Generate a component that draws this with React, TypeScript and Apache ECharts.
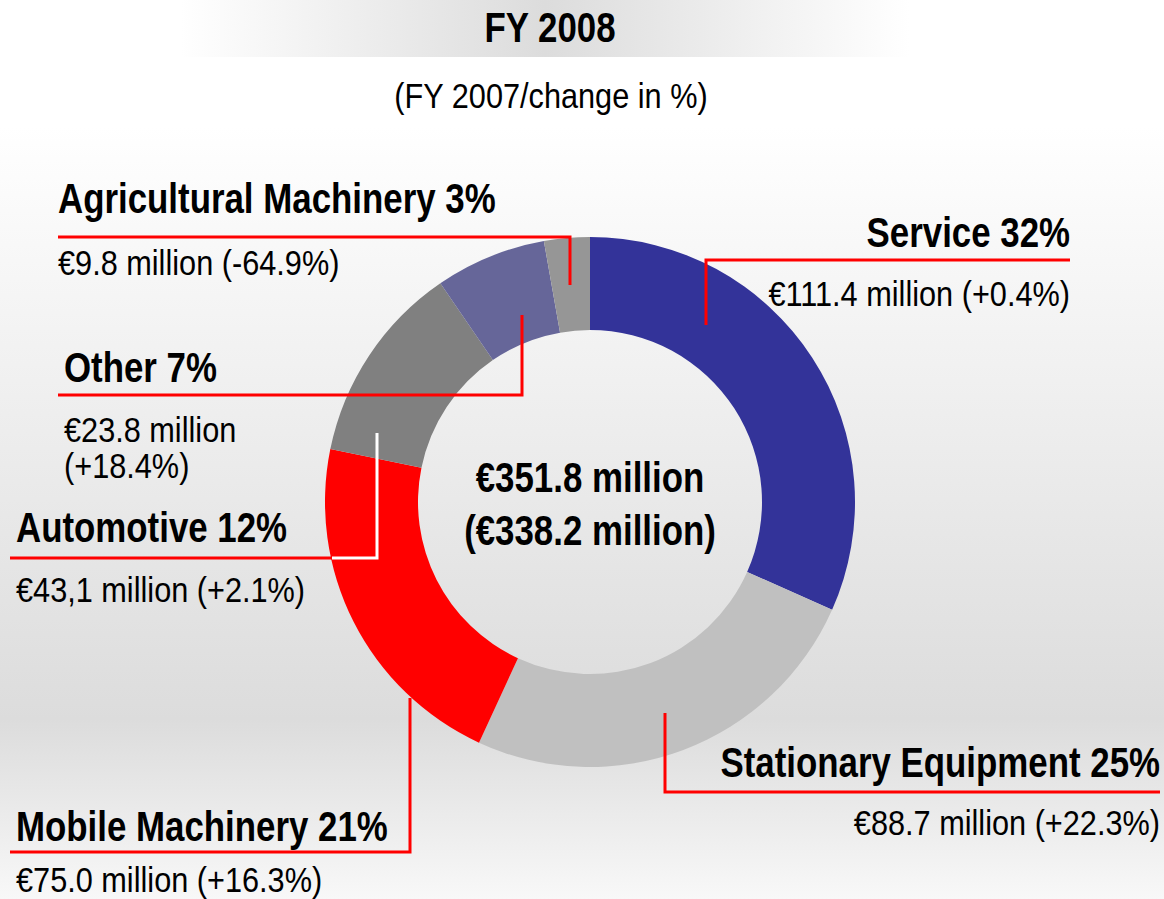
import React, { useEffect, useRef } from "react";
import * as echarts from "echarts";

const categories = ["Service", "Stationary Equipment", "Mobile Machinery", "Automotive", "Other", "Agricultural Machinery"];
const values2008 = [111.4, 88.7, 75.0, 43.1, 23.8, 9.8];
const shares = [32, 25, 21, 12, 7, 3];
const valueLabels = ["€111.4 million", "€88.7 million", "€75.0 million", "€43,1 million", "€23.8 million", "€9.8 million"];
const changes = ["+0.4%", "+22.3%", "+16.3%", "+2.1%", "+18.4%", "-64.9%"];
const colors = ["#333399", "#c0c0c0", "#ff0000", "#808080", "#666699", "#969696"];
const title = "FY 2008";
const subtitle = "(FY 2007/change in %)";
const total2008 = "€351.8 million";
const total2007 = "€338.2 million";

const FONT = '"Liberation Sans", Arial, sans-serif';

// annotation layout (label positions + leader lines)
const layout = [
  { align: "right", x: 1070, ty: 232, vy: [294], split: false, line: [[706, 325], [706, 260], [1070, 260]] },
  { align: "right", x: 1160, ty: 762, vy: [823], split: false, line: [[665, 713], [665, 792], [1160, 792]] },
  { align: "left", x: 16, ty: 826, vy: [880], split: false, line: [[410, 698], [410, 852], [10, 852]] },
  { align: "left", x: 16, ty: 527, vy: [590], split: false, line: [[332, 558], [10, 558]], white: [[377, 433], [377, 558], [332, 558]] },
  { align: "left", x: 64, ty: 367, vy: [430, 466], split: true, line: [[522, 315], [522, 395], [58, 395]] },
  { align: "left", x: 58, ty: 198, vy: [263], split: false, line: [[570, 285], [570, 237], [58, 237]] },
];

function text(x: number, y: number, t: string, bold: boolean, align: string) {
  const size = bold ? 42 : 35;
  const sx = bold ? 0.83 : 0.877;
  return {
    type: "text",
    x,
    y,
    z: 100,
    scaleX: sx,
    style: {
      text: t,
      fill: "#000",
      fontSize: size,
      fontFamily: FONT,
      fontWeight: bold ? "bold" : "normal",
      align,
      verticalAlign: "middle",
    },
  };
}

export default function App() {
  const ref = useRef<HTMLDivElement>(null);
  useEffect(() => {
    if (!ref.current) return;
    const chart = echarts.init(ref.current, undefined, { renderer: "svg" });
    const graphics: any[] = [];
    graphics.push({
      type: "rect",
      z: 0,
      shape: { x: 180, y: 0, width: 730, height: 57 },
      style: {
        fill: new echarts.graphic.LinearGradient(0, 0, 1, 0, [
          { offset: 0, color: "rgba(220,220,220,0)" },
          { offset: 0.5, color: "#dcdcdc" },
          { offset: 1, color: "rgba(220,220,220,0)" },
        ]),
      },
    });
    graphics.push(text(550, 27, title, true, "center"));
    graphics.push(text(551, 96, subtitle, false, "center"));
    graphics.push(text(590, 477, total2008, true, "center"));
    graphics.push(text(590, 530, "(" + total2007 + ")", true, "center"));
    layout.forEach((l, i) => {
      graphics.push({
        type: "polyline",
        z: 90,
        shape: { points: l.line },
        style: { stroke: "#ff0000", lineWidth: 3, fill: null },
      });
      if (l.white) {
        graphics.push({
          type: "polyline",
          z: 90,
          shape: { points: l.white },
          style: { stroke: "#ffffff", lineWidth: 3, fill: null },
        });
      }
      graphics.push(text(l.x, l.ty, `${categories[i]} ${shares[i]}%`, true, l.align));
      if (l.split) {
        graphics.push(text(l.x, l.vy[0], valueLabels[i], false, l.align));
        graphics.push(text(l.x, l.vy[1], `(${changes[i]})`, false, l.align));
      } else {
        graphics.push(text(l.x, l.vy[0], `${valueLabels[i]} (${changes[i]})`, false, l.align));
      }
    });
    chart.setOption({
      animation: false,
      backgroundColor: "transparent",
      series: [
        {
          type: "pie",
          center: [590, 502],
          radius: [172, 265],
          startAngle: 90,
          clockwise: true,
          label: { show: false },
          labelLine: { show: false },
          emphasis: { disabled: true },
          itemStyle: { borderWidth: 0 },
          data: categories.map((c, i) => ({ name: c, value: values2008[i], itemStyle: { color: colors[i] } })),
        },
      ],
      graphic: graphics,
    });
    return () => chart.dispose();
  }, []);
  return (
    <div
      ref={ref}
      style={{
        position: "fixed",
        left: 0,
        top: 0,
        width: 1164,
        height: 899,
        background: "linear-gradient(to bottom, #ffffff 0%, #ffffff 14%, #dcdcdc 80%, #f8f8f8 100%)",
      }}
    />
  );
}
